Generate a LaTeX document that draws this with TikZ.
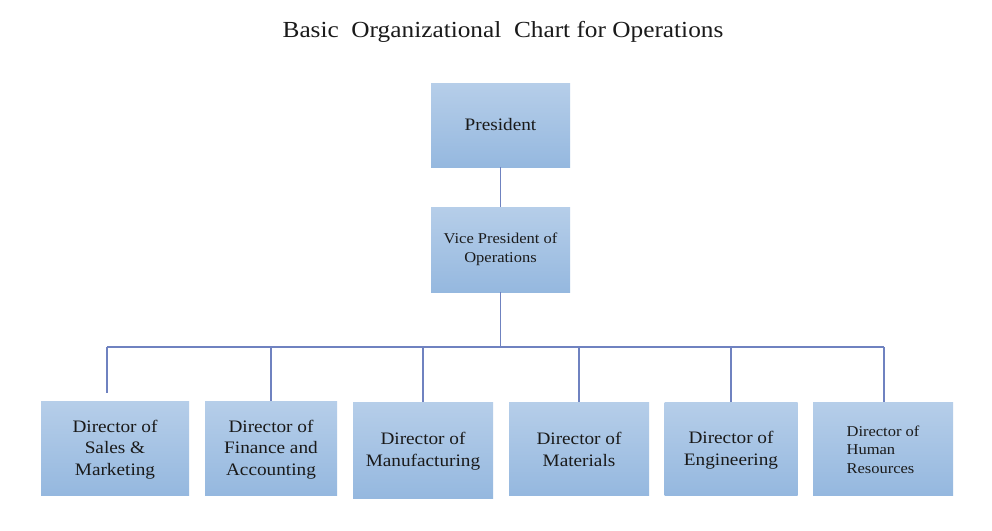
\documentclass[tikz,border=0pt]{standalone}
\usepackage{fontspec}
\setmainfont{Liberation Serif}[FakeStretch=1.1]
\definecolor{boxtop}{HTML}{B6CEE9}
\definecolor{boxbot}{HTML}{95B8DF}
\definecolor{linec}{HTML}{6F82C0}
\definecolor{txt}{HTML}{1A1A1A}
\begin{document}
\begin{tikzpicture}[x=1pt,y=-1pt,
  orgbox/.style={rectangle, inner sep=0pt, top color=boxtop, bottom color=boxbot, draw=none, align=center, text=txt, font=\fontsize{17.5}{21.5}\selectfont},
  conn/.style={draw=linec, line width=1.3pt}]
\fill[white] (0,0) rectangle (992,530);
\useasboundingbox (0,0) rectangle (992,530);
\node[text=txt, font=\fontsize{23}{27}\selectfont] (title) at (503,32) {Basic\ \ Organizational\ \ Chart for Operations};
\node[orgbox, minimum width=139pt, minimum height=84pt] (pres) at (500.5,125) {President};
\node[orgbox, minimum width=139pt, minimum height=85pt, font=\fontsize{15}{19}\selectfont] (vp) at (500.5,249.5) {Vice President of\\Operations};
\node[orgbox, minimum width=148pt, minimum height=94pt] (b1) at (115,448) {\rule{0pt}{15pt}Director of\\Sales \&\\Marketing};
\node[orgbox, minimum width=132pt, minimum height=94pt] (b2) at (271,448) {\rule{0pt}{15pt}Director of\\Finance and\\Accounting};
\node[orgbox, minimum width=140pt, minimum height=96pt, font=\fontsize{17.5}{22}\selectfont] (b3) at (423,450) {\rule{0pt}{15pt}Director of\\Manufacturing};
\node[orgbox, minimum width=140pt, minimum height=93pt, font=\fontsize{17.5}{22}\selectfont] (b4) at (579,448.5) {\rule{0pt}{15pt}Director of\\Materials};
\node[orgbox, minimum width=133pt, minimum height=93pt, font=\fontsize{17.5}{22}\selectfont] (b5) at (731,448.5) {\rule{0pt}{15pt}Director of\\Engineering};
\node[orgbox, minimum width=140pt, minimum height=93pt, font=\fontsize{15}{18.5}\selectfont, align=left] (b6) at (883,448.5) {\rule{0pt}{13pt}Director of\\Human\\Resources};
\coordinate (busL) at (107,347);
\coordinate (busR) at (884,347);
\coordinate (d1) at (107,393);
\draw[conn] (pres.south) -- (vp.north);
\draw[conn] (vp.south) -- (vp.south |- busL);
\draw[conn] (busL) -- (busR);
\draw[conn] (busL) -- (d1);
\draw[conn] (b2.north) -- (b2.north |- busL);
\draw[conn] (b3.north) -- (b3.north |- busL);
\draw[conn] (b4.north) -- (b4.north |- busL);
\draw[conn] (b5.north) -- (b5.north |- busL);
\draw[conn] (busR) -- (b6.north -| busR);
\end{tikzpicture}
\end{document}
